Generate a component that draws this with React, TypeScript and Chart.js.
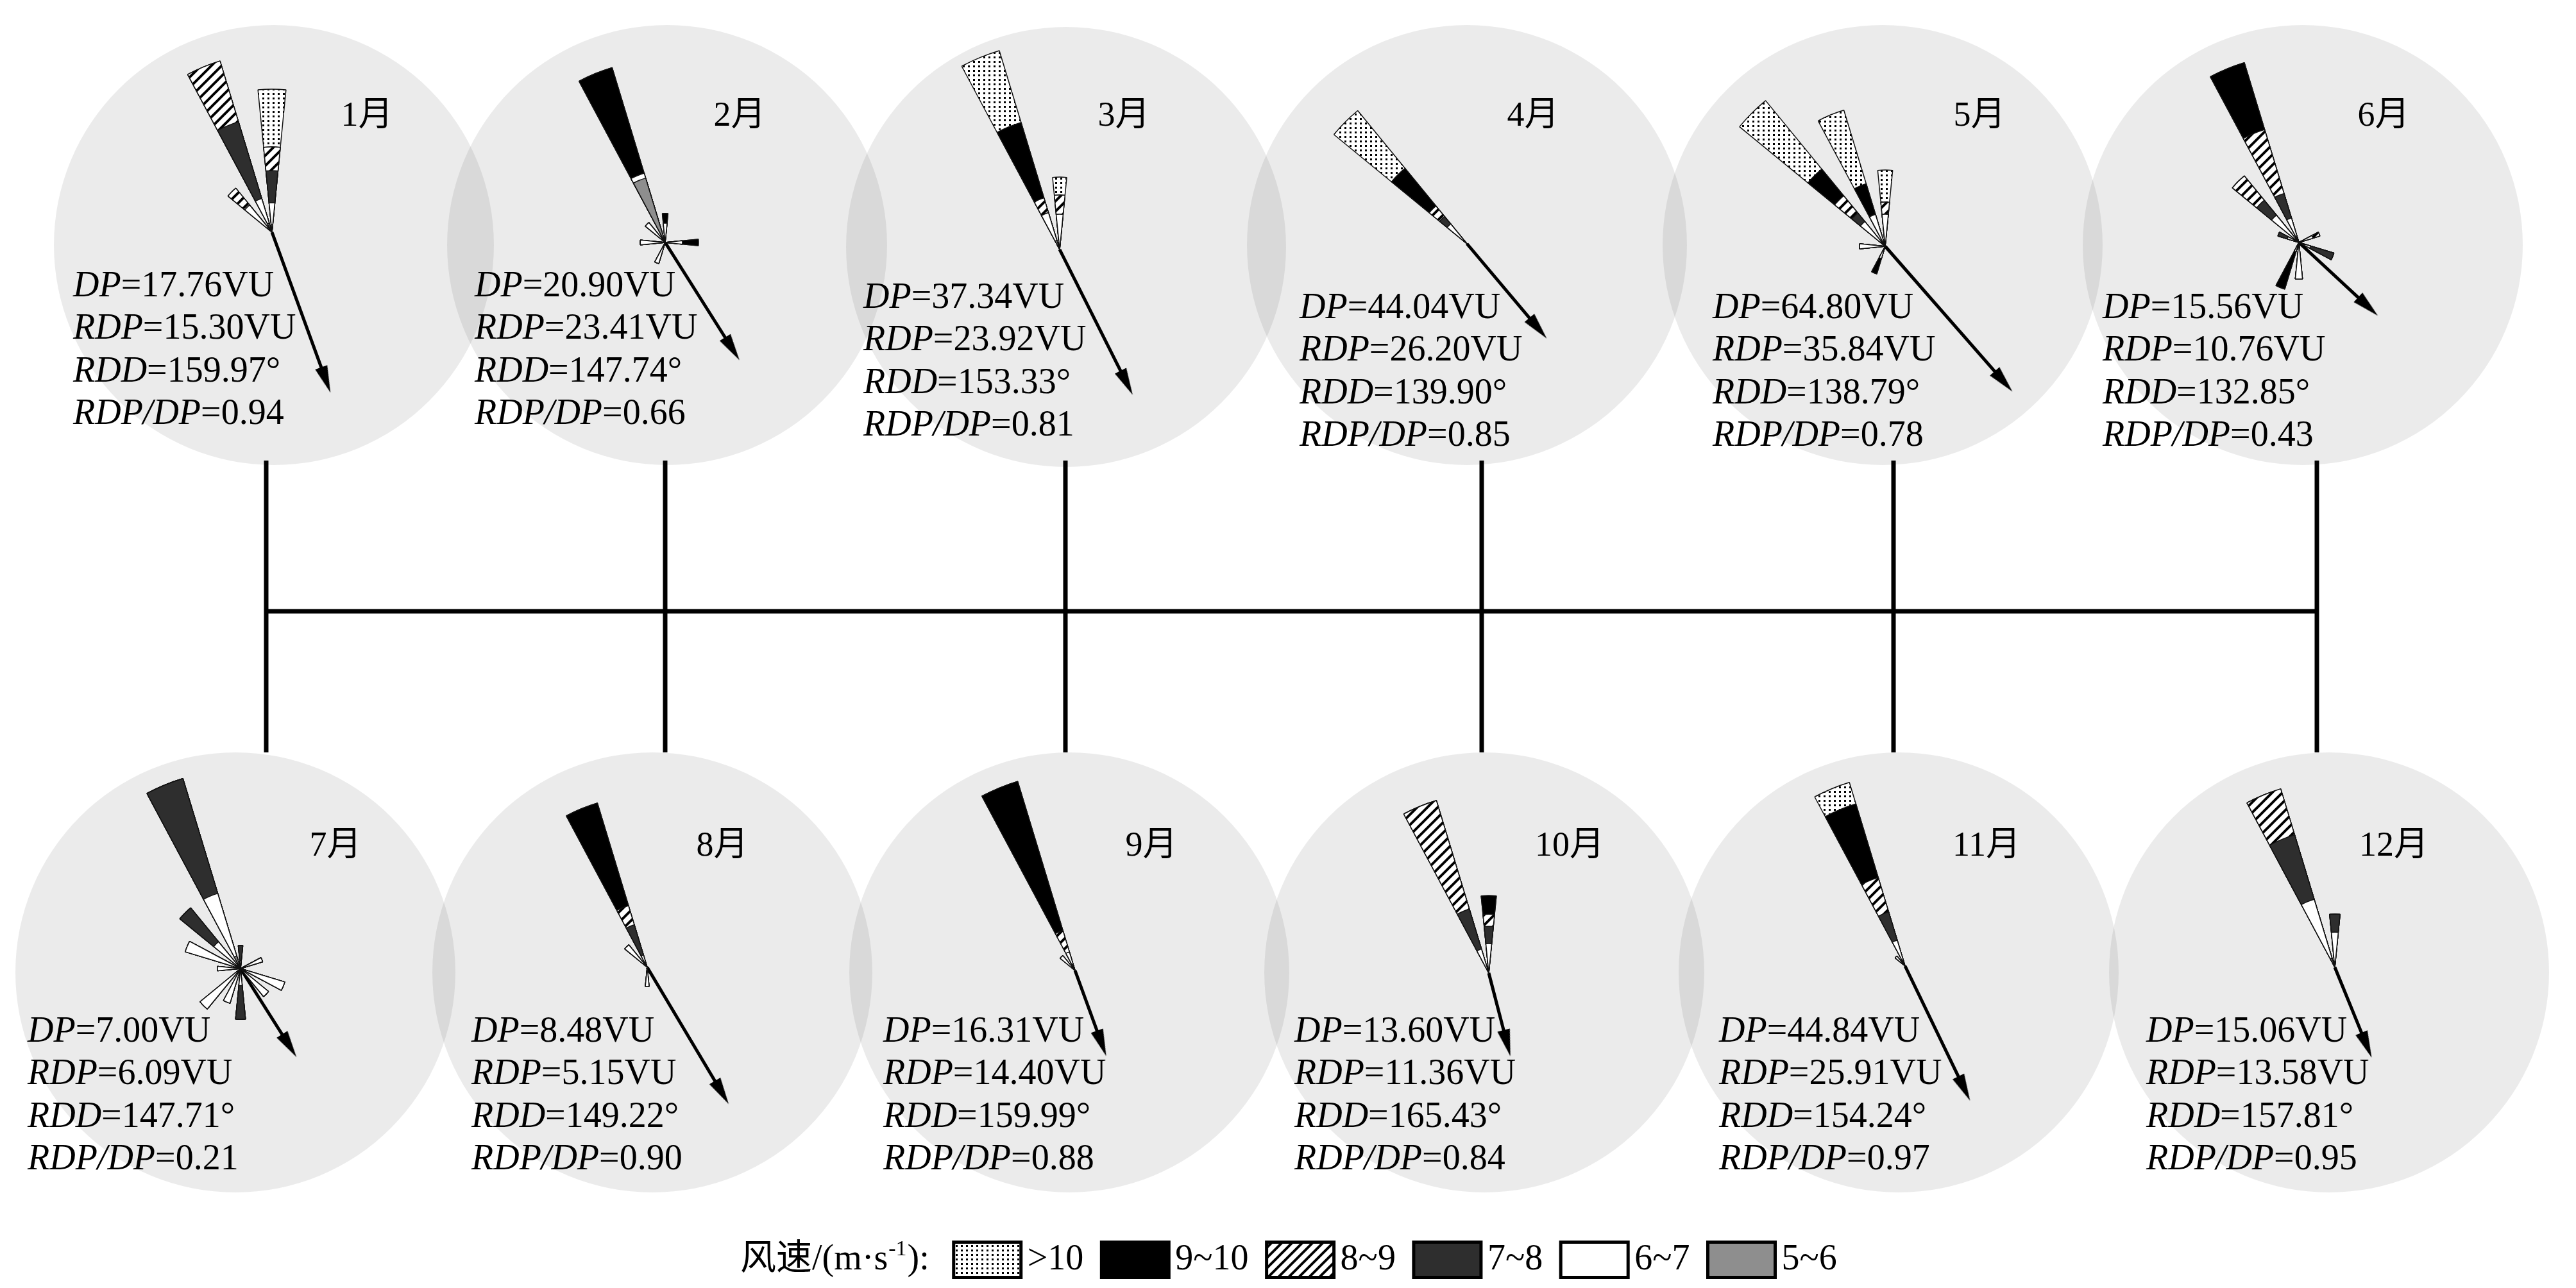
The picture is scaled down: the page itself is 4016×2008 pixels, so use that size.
import { useEffect, useRef } from 'react';
import { Chart, registerables } from 'chart.js';

Chart.register(...registerables);

// ---------------- DATA ----------------
const MONTHS = ['1月', '2月', '3月', '4月', '5月', '6月', '7月', '8月', '9月', '10月', '11月', '12月'];
const DP = [17.76, 20.9, 37.34, 44.04, 64.8, 15.56, 7.0, 8.48, 16.31, 13.6, 44.84, 15.06];
const RDP = [15.3, 23.41, 23.92, 26.2, 35.84, 10.76, 6.09, 5.15, 14.4, 11.36, 25.91, 13.58];
const RDD = [159.97, 147.74, 153.33, 139.9, 138.79, 132.85, 147.71, 149.22, 159.99, 165.43, 154.24, 157.81];
const RDP_DP = [0.94, 0.66, 0.81, 0.85, 0.78, 0.43, 0.21, 0.9, 0.88, 0.84, 0.97, 0.95];

// wind speed classes (m/s), from the rose centre outwards
const SPEED_CLASSES = ['5~6', '6~7', '7~8', '8~9', '9~10', '>10'];
const LEGEND_ORDER = [5, 4, 3, 2, 1, 0];
const DIRECTIONS = ['N', 'NNE', 'NE', 'ENE', 'E', 'ESE', 'SE', 'SSE', 'S', 'SSW', 'SW', 'WSW', 'W', 'WNW', 'NW', 'NNW'];

// drift potential per direction (VU): [direction index, 5~6, 6~7, 7~8, 8~9, 9~10, >10]
const ROSE_JAN = [
  [15, 0.45, 1.21, 3.79, 3.0, 0, 0],
  [0, 0.36, 1.03, 1.52, 1.12, 0, 2.73],
  [14, 0.3, 1.36, 0, 1.03, 0, 0],
];
const ROSE_FEB = [
  [15, 4.88, 0.37, 0, 0, 8.0, 0],
  [14, 0, 1.86, 0, 0, 0, 0],
  [0, 0, 1.4, 0, 0, 0.7, 0],
  [4, 0, 1.25, 0, 0, 1.16, 0],
  [12, 0, 1.8, 0, 0, 0, 0],
  [9, 0, 1.6, 0, 0, 0, 0],
];
const ROSE_MAR = [
  [15, 1.25, 3.75, 0, 2.0, 10.25, 9.75],
  [0, 0, 4.58, 0, 2.5, 0, 2.33],
];
const ROSE_APR = [
  [14, 1.31, 5.25, 2.46, 3.45, 12.48, 19.05],
];
const ROSE_MAY = [
  [14, 0.9, 3.6, 1.53, 3.15, 4.86, 12.43],
  [15, 0, 4.68, 0, 0, 4.5, 10.81],
  [0, 0, 4.5, 0, 1.71, 0, 4.5],
  [9, 0, 1.8, 0, 0, 2.25, 0],
  [12, 0, 3.6, 0, 0, 0, 0],
];
const ROSE_JUN = [
  [15, 0.26, 0.79, 1.05, 2.74, 2.87, 0],
  [14, 0, 1.45, 0.79, 1.29, 0, 0],
  [9, 0, 0.4, 0, 0, 1.6, 0],
  [5, 0, 0.5, 1.0, 0, 0, 0],
  [8, 0, 1.5, 0, 0, 0, 0],
  [13, 0, 0.5, 0.4, 0, 0, 0],
  [3, 0, 0.6, 0, 0.3, 0, 0],
];
const ROSE_JUL = [
  [15, 0.17, 0.85, 1.56, 0, 0, 0],
  [14, 0, 0.45, 0.57, 0, 0, 0],
  [13, 0, 0.75, 0, 0, 0, 0],
  [12, 0, 0.3, 0, 0, 0, 0],
  [10, 0, 0.68, 0, 0, 0, 0],
  [9, 0, 0.47, 0, 0, 0, 0],
  [8, 0, 0.22, 0.44, 0, 0, 0],
  [6, 0, 0.47, 0, 0, 0, 0],
  [5, 0, 0.6, 0, 0, 0, 0],
  [3, 0, 0.3, 0, 0, 0, 0],
  [0, 0, 0.1, 0.2, 0, 0, 0],
];
const ROSE_AUG = [
  [15, 0.2, 0.3, 1.23, 0.78, 4.18, 0],
  [14, 0, 1.13, 0, 0, 0, 0],
  [8, 0, 0.75, 0, 0, 0, 0],
];
const ROSE_SEP = [
  [15, 0.49, 0.98, 0, 1.71, 11.85, 0],
  [14, 0, 1.46, 0, 0, 0, 0],
];
const ROSE_OCT = [
  [15, 0, 1.32, 2.2, 5.98, 0, 0],
  [0, 0, 1.55, 0.91, 0.64, 0.98, 0],
];
const ROSE_NOV = [
  [15, 1.41, 4.51, 6.48, 7.89, 16.9, 4.93],
  [14, 0, 2.82, 0, 0, 0, 0],
];
const ROSE_DEC = [
  [15, 0.6, 3.87, 4.23, 3.02, 0, 0],
  [0, 0.36, 1.85, 1.13, 0, 0, 0],
];
const ROSES = [ROSE_JAN, ROSE_FEB, ROSE_MAR, ROSE_APR, ROSE_MAY, ROSE_JUN, ROSE_JUL, ROSE_AUG, ROSE_SEP, ROSE_OCT, ROSE_NOV, ROSE_DEC];

// ---------------- LAYOUT / STYLE ----------------
const W = 4016;
const H = 2008;
const ROSE_R = 345; // px radius of each rose's radial scale
const ROSE_CENTERS = [
  [424, 362], [1037, 378], [1652, 389], [2287, 380], [2939, 384], [3584, 378],
  [375, 1510], [1009, 1508], [1676, 1513], [2321, 1517], [2970, 1506], [3640, 1508],
];
const CIRCLE_CENTERS = [
  [427, 382], [1040, 382], [1662, 385], [2287, 382], [2935, 382], [3590, 382],
  [367, 1516], [1017, 1516], [1667, 1516], [2314, 1516], [2960, 1516], [3631, 1516],
];
const CIRCLE_R = 343;
const ROSE_PX_PER_VU = [33, 21.5, 12, 6.1, 11.1, 38, 120, 40, 20.5, 29.6, 7.1, 24.8];
const ARROW_PX_PER_VU = [17.4, 9.27, 10.6, 7.37, 8.4, 15.6, 26.8, 48.2, 9.86, 11.8, 9.0, 11.2];
const TEXT_START = [
  [114, 447], [740, 447], [1346, 465], [2026, 481], [2670, 481], [3278, 481],
  [43, 1609], [735, 1609], [1377, 1609], [2018, 1609], [2680, 1609], [3346, 1609],
];
const LABEL_CENTER = [
  [572, 182], [1153, 182], [1752, 182], [2390, 182], [3086, 182], [3716, 182],
  [523, 1320], [1126, 1320], [1795, 1320], [2447, 1320], [3097, 1320], [3732, 1320],
];
const CONNECTOR_X = [415, 1037, 1661, 2310, 2952, 3612];
const CONNECTOR_TOP = 718;
const CONNECTOR_MID = 953;
const CONNECTOR_BOTTOM = 1173;
const LINE_SPACING = 66.5;
const SERIF_FAMILY = '"Liberation Serif", "Times New Roman", Times, "Noto Sans CJK SC", serif';
const STAT_FONT = 56;
const LABEL_FONT = 54;
const HEAD_W = 20;
const HEAD_L = 42;
const LEGEND_TITLE_X = 1154;
const LEGEND_Y = 1964;
const SWATCH_W = 105;
const SWATCH_H = 55;

function makePatterns(ctx: CanvasRenderingContext2D) {
  const d = document.createElement('canvas');
  d.width = 8;
  d.height = 7;
  const dg = d.getContext('2d')!;
  dg.fillStyle = '#ffffff';
  dg.fillRect(0, 0, 8, 7);
  dg.fillStyle = '#000000';
  dg.fillRect(2, 2, 3, 3);
  const dots = ctx.createPattern(d, 'repeat');

  const s = 16;
  const h = document.createElement('canvas');
  h.width = s;
  h.height = s;
  const hg = h.getContext('2d')!;
  hg.fillStyle = '#ffffff';
  hg.fillRect(0, 0, s, s);
  hg.strokeStyle = '#000000';
  hg.lineWidth = 4;
  hg.beginPath();
  hg.moveTo(-4, 4);
  hg.lineTo(4, -4);
  hg.moveTo(0, s);
  hg.lineTo(s, 0);
  hg.moveTo(s - 4, s + 4);
  hg.lineTo(s + 4, s - 4);
  hg.stroke();
  const hatch = ctx.createPattern(h, 'repeat');
  return ['#8e8e8e', '#ffffff', '#2e2e2e', hatch, '#000000', dots];
}

function makeHead() {
  const c = document.createElement('canvas');
  c.width = HEAD_W;
  c.height = HEAD_L;
  const g = c.getContext('2d')!;
  g.fillStyle = '#000';
  g.beginPath();
  g.moveTo(HEAD_W / 2, 0);
  g.lineTo(HEAD_W, HEAD_L);
  g.lineTo(0, HEAD_L);
  g.closePath();
  g.fill();
  return c;
}

function drawParts(ctx: CanvasRenderingContext2D, parts: [string, boolean][], x: number, y: number, size: number) {
  let cx = x;
  for (const [t, it] of parts) {
    ctx.font = `${it ? 'italic ' : ''}${size}px ${SERIF_FAMILY}`;
    ctx.fillText(t, cx, y);
    cx += ctx.measureText(t).width;
  }
  return cx;
}

export default function App() {
  const mainRef = useRef<HTMLCanvasElement | null>(null);
  const roseRefs = useRef<(HTMLCanvasElement | null)[]>([]);

  useEffect(() => {
    const charts: Chart[] = [];
    let cancelled = false;

    const build = () => {
      if (cancelled) return;
      const mainCanvas = mainRef.current!;
      const mainCtx = mainCanvas.getContext('2d')!;
      const mainFills = makePatterns(mainCtx);
      const head = makeHead();

      const datasets: any[] = [];
      datasets.push({
        label: 'circles',
        data: CIRCLE_CENTERS.map(([x, y]) => ({ x, y })),
        pointRadius: CIRCLE_R,
        pointBackgroundColor: 'rgba(0,0,0,0.08)',
        pointBorderWidth: 0,
        showLine: false,
        clip: false,
        order: 3,
      });
      CONNECTOR_X.forEach((x) => {
        datasets.push({
          data: [{ x, y: CONNECTOR_TOP }, { x, y: CONNECTOR_BOTTOM }],
          showLine: true,
          borderColor: '#000',
          borderWidth: 7,
          pointRadius: 0,
          order: 2,
        });
      });
      datasets.push({
        data: [{ x: CONNECTOR_X[0], y: CONNECTOR_MID }, { x: CONNECTOR_X[CONNECTOR_X.length - 1], y: CONNECTOR_MID }],
        showLine: true,
        borderColor: '#000',
        borderWidth: 7,
        pointRadius: 0,
        order: 2,
      });
      ROSE_CENTERS.forEach(([cx, cy], i) => {
        const th = (RDD[i] * Math.PI) / 180;
        const L = RDP[i] * ARROW_PX_PER_VU[i] - HEAD_L / 2;
        datasets.push({
          data: [{ x: cx, y: cy }, { x: cx + L * Math.sin(th), y: cy - L * Math.cos(th) }],
          showLine: true,
          borderColor: '#000',
          borderWidth: 5,
          pointStyle: ['circle', head],
          pointRadius: [0, 10],
          pointRotation: [0, RDD[i]],
          pointBackgroundColor: '#000',
          pointBorderWidth: 0,
          clip: false,
          order: 1,
        });
      });

      const textPlugin = {
        id: 'roseText',
        afterDatasetsDraw(chart: any) {
          const ctx: CanvasRenderingContext2D = chart.ctx;
          const xs = chart.scales.x;
          const ys = chart.scales.y;
          ctx.save();
          ctx.fillStyle = '#000';
          ctx.textBaseline = 'middle';
          for (let i = 0; i < 12; i++) {
            ctx.textAlign = 'center';
            ctx.font = `${LABEL_FONT}px ${SERIF_FAMILY}`;
            ctx.fillText(MONTHS[i], xs.getPixelForValue(LABEL_CENTER[i][0]), ys.getPixelForValue(LABEL_CENTER[i][1]));
            ctx.textAlign = 'left';
            const lines: [string, boolean][][] = [
              [['DP', true], [`=${DP[i].toFixed(2)}VU`, false]],
              [['RDP', true], [`=${RDP[i].toFixed(2)}VU`, false]],
              [['RDD', true], [`=${RDD[i].toFixed(2)}°`, false]],
              [['RDP/DP', true], [`=${RDP_DP[i].toFixed(2)}`, false]],
            ];
            lines.forEach((parts, k) => {
              drawParts(
                ctx,
                parts,
                xs.getPixelForValue(TEXT_START[i][0]),
                ys.getPixelForValue(TEXT_START[i][1] + k * LINE_SPACING),
                STAT_FONT
              );
            });
          }
          // legend
          const ly = ys.getPixelForValue(LEGEND_Y);
          ctx.textAlign = 'left';
          let x = xs.getPixelForValue(LEGEND_TITLE_X);
          x = drawParts(ctx, [['风速/(m·s', false]], x, ly, STAT_FONT);
          ctx.font = `34px ${SERIF_FAMILY}`;
          ctx.fillText('-1', x + 1, ly - 16);
          x += ctx.measureText('-1').width + 2;
          x = drawParts(ctx, [['):', false]], x, ly, STAT_FONT);
          x += 38;
          LEGEND_ORDER.forEach((k) => {
            ctx.fillStyle = mainFills[k] as any;
            ctx.fillRect(x, ly - SWATCH_H / 2, SWATCH_W, SWATCH_H);
            ctx.strokeStyle = '#000';
            ctx.lineWidth = 5;
            ctx.strokeRect(x, ly - SWATCH_H / 2, SWATCH_W, SWATCH_H);
            ctx.fillStyle = '#000';
            const tx = x + SWATCH_W + 10;
            const end = drawParts(ctx, [[SPEED_CLASSES[k], false]], tx, ly, STAT_FONT);
            x = end + 28;
          });
          ctx.restore();
        },
      };

      charts.push(
        new Chart(mainCanvas, {
          type: 'scatter',
          data: { datasets },
          options: {
            responsive: false,
            animation: false,
            events: [],
            layout: { padding: 0, autoPadding: false },
            plugins: { legend: { display: false }, tooltip: { enabled: false } },
            scales: {
              x: { type: 'linear', min: 0, max: W, display: false },
              y: { type: 'linear', min: 0, max: H, reverse: true, display: false },
            },
          } as any,
          plugins: [textPlugin],
        })
      );

      const slotCount = DIRECTIONS.length * 2;
      const labels = Array.from({ length: slotCount }, (_, s) => (s % 2 === 0 ? DIRECTIONS[s / 2] : ''));
      ROSES.forEach((rose, i) => {
        const canvas = roseRefs.current[i];
        if (!canvas) return;
        const fills = makePatterns(canvas.getContext('2d')!);
        const ds = SPEED_CLASSES.map((name, k) => {
          const data = new Array(slotCount).fill(0);
          rose.forEach((p) => {
            let cum = 0;
            for (let j = 0; j <= k; j++) cum += p[1 + j];
            data[p[0] * 2] = cum;
          });
          return {
            label: name,
            data,
            backgroundColor: fills[k] as any,
            borderColor: '#111',
            borderWidth: (c: any) => (typeof c.raw === 'number' && c.raw > 0 ? 1.5 : 0),
          };
        });
        charts.push(
          new Chart(canvas, {
            type: 'polarArea',
            data: { labels, datasets: ds },
            options: {
              responsive: false,
              animation: false,
              events: [],
              layout: { padding: 0, autoPadding: false },
              plugins: { legend: { display: false }, tooltip: { enabled: false } },
              scales: {
                r: {
                  display: false,
                  min: 0,
                  max: ROSE_R / ROSE_PX_PER_VU[i],
                  startAngle: -360 / slotCount / 2,
                },
              },
            } as any,
          })
        );
      });
    };

    const fontLoads: Promise<any>[] = [];
    try {
      const fs = (document as any).fonts;
      if (fs && fs.load) {
        fontLoads.push(fs.load(`56px "Liberation Serif"`, 'DP=17.76VU'));
        fontLoads.push(fs.load(`italic 56px "Liberation Serif"`, 'RDP/DP'));
        fontLoads.push(fs.load(`56px "Noto Sans CJK SC"`, '风速月'));
      }
    } catch (e) {
      /* ignore */
    }
    Promise.race([
      Promise.all(fontLoads).catch(() => null),
      new Promise((r) => setTimeout(r, 1500)),
    ]).then(build);

    return () => {
      cancelled = true;
      charts.forEach((c) => c.destroy());
    };
  }, []);

  return (
    <div style={{ position: 'fixed', left: 0, top: 0, width: W, height: H, background: '#fff', overflow: 'hidden' }}>
      <canvas ref={mainRef} width={W} height={H} style={{ position: 'absolute', left: 0, top: 0 }} />
      {ROSE_CENTERS.map(([cx, cy], i) => (
        <canvas
          key={i}
          ref={(el) => {
            roseRefs.current[i] = el;
          }}
          width={ROSE_R * 2}
          height={ROSE_R * 2}
          style={{ position: 'absolute', left: cx - ROSE_R, top: cy - ROSE_R }}
        />
      ))}
    </div>
  );
}
